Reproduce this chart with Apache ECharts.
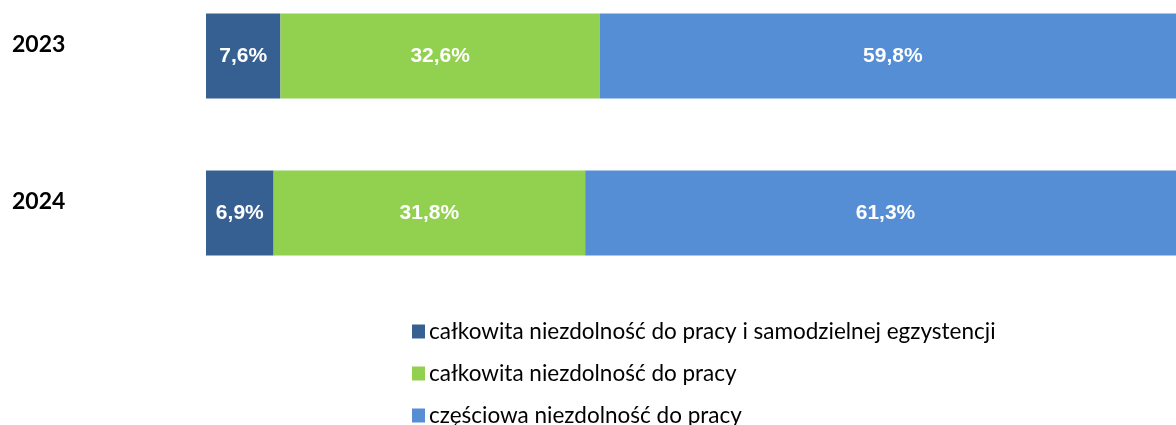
<!DOCTYPE html>
<html>
<head>
<meta charset="utf-8">
<script src="https://cdn.jsdelivr.net/npm/echarts@6/dist/echarts.min.js"></script>
<style>
  html, body { margin: 0; padding: 0; background: #fff; }
  #chart { width: 1176px; height: 425px; }
</style>
</head>
<body>
<div id="chart"></div>
<script>
var years = ["2023", "2024"];
var seriesNames = [
  "całkowita niezdolność do pracy i samodzielnej egzystencji",
  "całkowita niezdolność do pracy",
  "częściowa niezdolność do pracy"
];
var totalIncapSelf = [7.6, 6.9];
var totalIncap = [32.6, 31.8];
var partialIncap = [59.8, 61.3];
var colors = ["#376092", "#92D050", "#558ED5"];

var myChart = echarts.init(document.getElementById("chart"));

function makeSeries(name, data) {
  return {
    name: name,
    type: "bar",
    stack: "total",
    clip: false,
    data: data,
    barWidth: 85,
    label: {
      show: true,
      position: "inside",
      color: "#fff",
      fontFamily: "Liberation Sans",
      fontWeight: "bold",
      fontSize: 21,
      formatter: function (p) {
        return p.value.toFixed(1).replace(".", ",") + "%";
      }
    }
  };
}

myChart.setOption({
  animation: false,
  color: colors,
  grid: {
    left: 206,
    right: 0,
    top: 56,
    height: 157
  },
  xAxis: {
    type: "value",
    min: 0,
    max: 99,
    show: false
  },
  yAxis: {
    type: "category",
    data: years,
    inverse: true,
    boundaryGap: false,
    axisLine: { show: false },
    axisTick: { show: false },
    axisLabel: {
      align: "left",
      verticalAlign: "bottom",
      margin: 194,
      color: "#000",
      fontFamily: "Lato",
      fontWeight: "bold",
      fontSize: 23
    }
  },
  legend: {
    orient: "vertical",
    left: 412,
    top: 320,
    height: 140,
    padding: 0,
    itemWidth: 13,
    itemHeight: 14,
    itemGap: 19,
    icon: "rect",
    textStyle: {
      fontFamily: "Lato",
      fontSize: 22.5,
      color: "#000",
      padding: [0, 0, 0, -1]
    },
    data: seriesNames
  },
  series: [
    makeSeries(seriesNames[0], totalIncapSelf),
    makeSeries(seriesNames[1], totalIncap),
    makeSeries(seriesNames[2], partialIncap)
  ]
});
</script>
</body>
</html>
